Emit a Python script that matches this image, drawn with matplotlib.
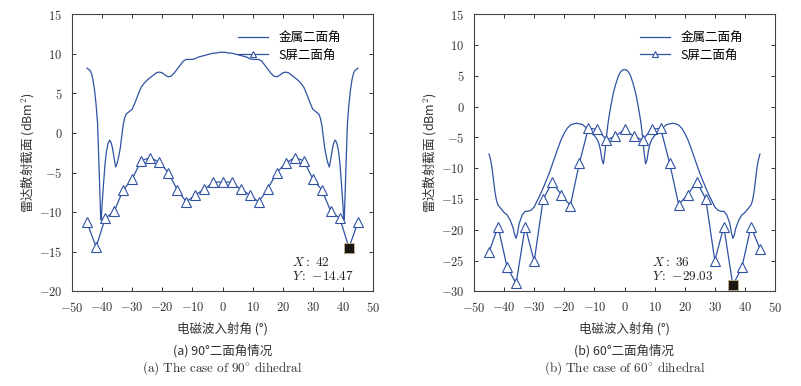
import matplotlib
matplotlib.use('Agg')
import matplotlib.pyplot as plt
from matplotlib.ticker import FuncFormatter, MultipleLocator

plt.rcParams['mathtext.fontset'] = 'cm'
plt.rcParams['font.family'] = ['Noto Sans CJK SC', 'DejaVu Sans']

# ── Data ─────────────────────────────────────────────────────────────────────
# (a) 90 degree dihedral: metal curve (dense) and S-screen samples (every 3 deg)
metal90_x = [
    -45, -44, -43.5, -43, -42.5, -42, -41.5, -41, -40.5, -40.3, -40, -39.5, -39, -38.5, -38,
    -37.5, -37, -36.5, -36, -35.5, -35, -34.5, -34, -33.5, -33, -32.5, -32, -31, -30, -29,
    -28, -27, -26, -25, -24, -23, -22, -21, -20, -19, -18, -17, -16, -15, -14, -13, -12,
    -11, -10, -9, -8, -7, -6, -5, -4, -3, -2, -1, 0,
    1, 2, 3, 4, 5, 6, 7, 8, 9, 10, 11, 12, 13, 14, 15, 16, 17, 18, 19, 20, 21, 22, 23,
    24, 25, 26, 27, 28, 29, 30, 31, 32, 32.5, 33, 33.5, 34, 34.5, 35, 35.5, 36, 36.5, 37,
    37.5, 38, 38.5, 39, 39.5, 40, 40.3, 40.5, 41, 41.5, 42, 42.5, 43, 43.5, 44, 45,
]
metal90_y = [
    8.2, 7.9, 7.5, 6.7, 5.4, 3.6, 1.2, -4.5, -10.4, -11.0, -9.0, -6.3, -3.8, -2.2, -1.3,
    -0.9, -1.2, -2.0, -3.2, -4.3, -3.8, -3.0, -2.0, -0.5, 1.0, 1.9, 2.4, 2.7, 3.0, 3.9,
    4.9, 5.8, 6.3, 6.7, 7.0, 7.3, 7.6, 7.7, 7.6, 7.3, 7.1, 7.2, 7.6, 8.1, 8.6, 9.1, 9.3,
    9.3, 9.3, 9.4, 9.6, 9.7, 9.8, 9.9, 10.0, 10.1, 10.1, 10.2, 10.2,
    10.2, 10.1, 10.1, 10.0, 9.9, 9.8, 9.7, 9.6, 9.4, 9.3, 9.3, 9.3, 9.1, 8.6, 8.1, 7.6,
    7.2, 7.1, 7.3, 7.6, 7.7, 7.6, 7.3, 7.0, 6.7, 6.3, 5.8, 4.9, 3.9, 3.0, 2.7, 2.4, 1.9,
    1.0, -0.5, -2.0, -3.0, -3.8, -4.3, -3.2, -2.0, -1.2, -0.9, -1.3, -2.2, -3.8, -6.3,
    -9.0, -11.0, -10.4, -4.5, 1.2, 3.6, 5.4, 6.7, 7.5, 7.9, 8.2,
]
s90_x = [-45, -42, -39, -36, -33, -30, -27, -24, -21, -18, -15, -12, -9, -6, -3, 0,
         3, 6, 9, 12, 15, 18, 21, 24, 27, 30, 33, 36, 39, 42, 45]
s90_y = [-11.3, -14.4, -10.8, -9.9, -7.2, -5.8, -3.5, -3.1, -3.7, -5.0, -7.2, -8.7,
         -7.8, -7.1, -6.2, -6.2, -6.2, -7.1, -7.8, -8.7, -7.1, -5.0, -3.8, -3.1, -3.5,
         -5.8, -7.2, -9.9, -10.8, -14.47, -11.3]
mark90 = (42, -14.47)

# (b) 60 degree dihedral
metal60_x = [
    -45, -44.5, -44, -43.5, -43, -42.5, -42, -41, -40, -39, -38, -37, -36.5, -36, -35.5,
    -35, -34, -33, -32, -31, -30, -29, -28, -27, -26, -25, -24, -23, -22, -21, -20, -19,
    -18, -17, -16, -15, -14, -13, -12, -11, -10, -9, -8.5, -8, -7.5, -7, -6.5, -6, -5.5,
    -5, -4.5, -4, -3.5, -3, -2.5, -2, -1.5, -1, -0.5, 0,
    0.5, 1, 1.5, 2, 2.5, 3, 3.5, 4, 4.5, 5, 5.5, 6, 6.5, 7, 7.5, 8, 8.5, 9, 10, 11, 12,
    13, 14, 15, 16, 17, 18, 19, 20, 21, 22, 23, 24, 25, 26, 27, 28, 29, 30, 31, 32, 33,
    34, 35, 35.5, 36, 36.5, 37, 38, 39, 40, 41, 42, 42.5, 43, 43.5, 44, 44.5, 45,
]
metal60_y = [
    -7.7, -8.6, -10.0, -12.0, -14.0, -15.3, -16.0, -16.6, -17.2, -17.6, -18.4, -19.7,
    -20.8, -21.4, -20.4, -19.0, -17.6, -17.0, -17.0, -16.8, -16.3, -15.3, -14.3, -13.2,
    -12.0, -10.8, -9.4, -8.0, -6.6, -5.3, -4.3, -3.5, -3.0, -2.8, -2.7, -2.8, -2.9, -3.3,
    -3.7, -4.2, -4.7, -5.4, -6.0, -7.0, -8.6, -9.3, -7.4, -4.9, -2.8, -1.2, 0.2, 1.5,
    2.6, 3.5, 4.3, 5.0, 5.5, 5.8, 6.0, 6.0,
    6.0, 5.8, 5.5, 5.0, 4.3, 3.5, 2.6, 1.5, 0.2, -1.2, -2.8, -4.9, -7.4, -9.3, -8.6,
    -7.0, -6.0, -5.4, -4.7, -4.2, -3.7, -3.3, -2.9, -2.8, -2.7, -2.8, -3.0, -3.5, -4.3,
    -5.3, -6.6, -8.0, -9.4, -10.8, -12.0, -13.2, -14.3, -15.3, -16.3, -16.8, -17.0,
    -17.0, -17.6, -19.0, -20.4, -21.4, -20.8, -19.7, -18.4, -17.6, -17.2, -16.6, -16.0,
    -15.3, -14.0, -12.0, -10.0, -8.6, -7.7,
]
s60_x = [-45, -42, -39, -36, -33, -30, -27, -24, -21, -18, -15, -12, -9, -6, -3, 0,
         3, 6, 9, 12, 15, 18, 21, 24, 27, 30, 33, 36, 39, 42, 45]
s60_y = [-23.6, -19.5, -26.1, -28.7, -19.5, -25.1, -15.0, -12.3, -14.3, -16.1, -9.2,
         -3.5, -3.7, -5.4, -4.8, -3.7, -4.8, -5.4, -3.7, -3.5, -9.2, -15.9, -14.3,
         -12.2, -15.0, -25.0, -19.5, -29.03, -26.1, -19.5, -23.1]
mark60 = (36, -29.03)

legend_labels = ['金属二面角', 'S屏二面角']
xlabel = '电磁波入射角 (°)'
ylabel = '雷达散射截面 (dBm$^2$)'
captions_cn = ['(a) 90°二面角情况', '(b) 60°二面角情况']
captions_en = [r'$\mathrm{(a)\ The\ case\ of\ 90^{\circ}\ dihedral}$',
               r'$\mathrm{(b)\ The\ case\ of\ 60^{\circ}\ dihedral}$']

# ── Plot ─────────────────────────────────────────────────────────────────────
blue = '#2f52a3'
fig = plt.figure(figsize=(8.01, 3.86), dpi=100)
ax1 = fig.add_axes([72 / 801, 1 - 291.3 / 386, 301 / 801, 277 / 386])
ax2 = fig.add_axes([474 / 801, 1 - 291.3 / 386, 301 / 801, 277 / 386])

panels = [
    (ax1, metal90_x, metal90_y, s90_x, s90_y, mark90, (-20, 15), '42', '-14.47'),
    (ax2, metal60_x, metal60_y, s60_x, s60_y, mark60, (-30, 15), '36', '-29.03'),
]

num_fmt = FuncFormatter(lambda v, p: f'${v:g}$')

for i, (ax, mx, my, sx, sy, mk, ylim, tx, ty) in enumerate(panels):
    ax.plot(mx, my, color=blue, lw=0.9, label=legend_labels[0])
    ax.plot(sx, sy, color=blue, lw=0.9, marker='^', markersize=7,
            markerfacecolor='white', markeredgecolor=blue, markeredgewidth=0.8,
            label=legend_labels[1])
    ax.plot([mk[0]], [mk[1]], marker='s', markersize=7, color='#1c1612',
            markeredgecolor='#c9b68e', markeredgewidth=0.6, clip_on=False, zorder=5)

    ax.set_xlim(-50, 50)
    ax.set_ylim(*ylim)
    ax.xaxis.set_major_locator(MultipleLocator(10))
    ax.yaxis.set_major_locator(MultipleLocator(5))
    ax.xaxis.set_major_formatter(num_fmt)
    ax.yaxis.set_major_formatter(num_fmt)
    ax.tick_params(direction='in', top=True, right=True, length=3, width=0.7,
                   labelsize=9, colors='#333333')
    ax.tick_params(axis='y', pad=7)
    ax.tick_params(axis='x', pad=7)
    for s in ax.spines.values():
        s.set_color('#444444')
        s.set_linewidth(0.8)

    ax.set_xlabel(xlabel, fontsize=9, color='#333333', labelpad=5)
    ax.set_ylabel(ylabel, fontsize=9, color='#333333', labelpad=2)

    ax.legend(loc='upper right', bbox_to_anchor=(0.93, 0.98), frameon=False,
              fontsize=9, handlelength=2.4, labelspacing=0.35, handletextpad=0.8,
              numpoints=1, markerscale=0.6)

    # data tip text
    tip_x = 0.73 if i == 0 else 0.59
    ax.text(tip_x, 0.105, rf'$X{{:}}\ {tx}$', transform=ax.transAxes,
            fontsize=9.5, color='#222222', va='center')
    ax.text(tip_x, 0.055, rf'$Y{{:}}\ {{{ty}}}$', transform=ax.transAxes,
            fontsize=9.5, color='#222222', va='center')

    cx = (ax.get_position().x0 + ax.get_position().x1) / 2
    fig.text(cx, 1 - 351 / 386, captions_cn[i], ha='center', va='center',
             fontsize=9, color='#333333')
    fig.text(cx, 1 - 368 / 386, captions_en[i], ha='center', va='center',
             fontsize=9.5, color='#333333')

plt.savefig('out.png', dpi=100)
